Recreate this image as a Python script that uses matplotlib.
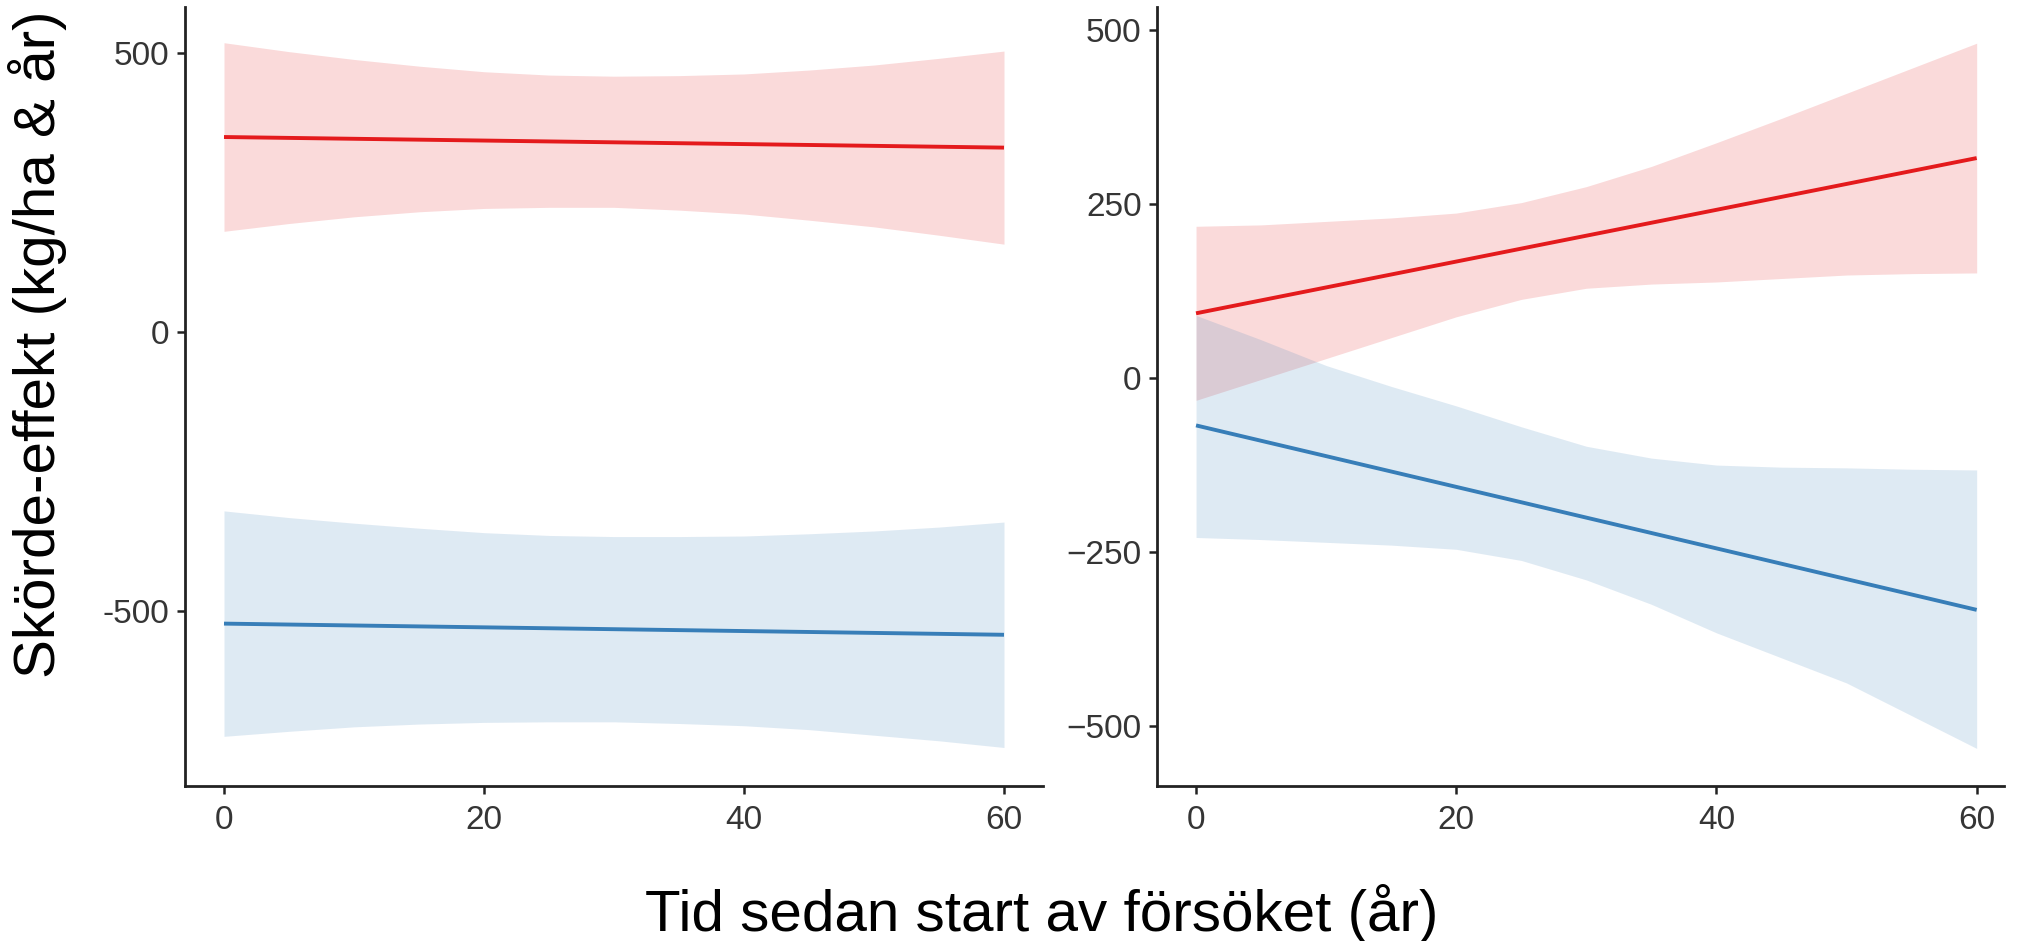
import matplotlib
matplotlib.use('Agg')
import matplotlib.pyplot as plt

plt.rcParams['font.family'] = ['Liberation Sans', 'DejaVu Sans']

# Time since start of the trial (years)
years = [0, 5, 10, 15, 20, 25, 30, 35, 40, 45, 50, 55, 60]
line_years = [0, 60]

# Left panel: fitted effect (end points) and confidence band
left_red = [349, 330]
left_red_hi = [518, 502, 488, 476, 466, 460, 458, 459, 462, 469, 478, 490, 503]
left_red_lo = [180, 194, 206, 215, 221, 223, 223, 218, 211, 200, 188, 173, 157]
left_blue = [-523, -543]
left_blue_hi = [-321, -333, -343, -352, -360, -365, -367, -367, -366, -362, -357, -350, -341]
left_blue_lo = [-725, -716, -708, -703, -700, -699, -699, -702, -706, -713, -723, -733, -745]

# Right panel
right_red = [93, 316]
right_red_hi = [218, 220, 225, 230, 237, 252, 275, 304, 338, 373, 409, 445, 481]
right_red_lo = [-32, -2, 28, 58, 88, 113, 129, 135, 138, 143, 148, 150, 151]
right_blue = [-68, -333]
right_blue_hi = [90, 55, 18, -12, -40, -70, -98, -115, -125, -128, -129, -131, -132]
right_blue_lo = [-229, -232, -236, -240, -246, -262, -290, -325, -366, -402, -438, -485, -532]

x_ticks = [0, 20, 40, 60]
left_yticks = [-500, 0, 500]
left_ylabels = ['-500', '0', '500']
right_yticks = [-500, -250, 0, 250, 500]

RED = '#E41A1C'
BLUE = '#377EB8'
TXT = '#353535'
AX = '#222222'


def style_axes(ax):
    for s in ('top', 'right'):
        ax.spines[s].set_visible(False)
    for s in ('left', 'bottom'):
        ax.spines[s].set_linewidth(2.0)
        ax.spines[s].set_color(AX)
    ax.tick_params(axis='both', length=6, width=1.8, color=AX,
                   labelsize=24, labelcolor=TXT)
    ax.tick_params(axis='y', pad=5)
    ax.tick_params(axis='x', pad=8)
    ax.set_xticks(x_ticks)


def draw(ax, mid, lo, hi, color):
    ax.fill_between(years, lo, hi, color=color, alpha=0.16, lw=0)
    ax.plot(line_years, mid, color=color, lw=2.8, solid_capstyle='butt')


fig = plt.figure(figsize=(20.17, 9.41), dpi=100, facecolor='w')
ax1 = fig.add_axes([185 / 2017, 155 / 941, 858 / 2017, 779 / 941])
ax2 = fig.add_axes([1157 / 2017, 155 / 941, 847 / 2017, 779 / 941])

draw(ax1, left_red, left_red_lo, left_red_hi, RED)
draw(ax1, left_blue, left_blue_lo, left_blue_hi, BLUE)
draw(ax2, right_red, right_red_lo, right_red_hi, RED)
draw(ax2, right_blue, right_blue_lo, right_blue_hi, BLUE)

style_axes(ax1)
style_axes(ax2)

ax1.set_xlim(-3, 63)
ax1.set_ylim(-814, 582)
ax1.set_yticks(left_yticks)
ax1.set_yticklabels(left_ylabels)

ax2.set_xlim(-3, 62.1)
ax2.set_ylim(-586, 533)
ax2.set_yticks(right_yticks)

fig.text(38 / 2017, 1 - 344 / 941, 'Skörde-effekt (kg/ha & år)', rotation=90,
         ha='center', va='center', fontsize=42, color='black')
fig.text(1042 / 2017, 1 - 931 / 941, 'Tid sedan start av försöket (år)',
         ha='center', va='baseline', fontsize=42, color='black')

fig.savefig('out.png', dpi=100, facecolor='w')
